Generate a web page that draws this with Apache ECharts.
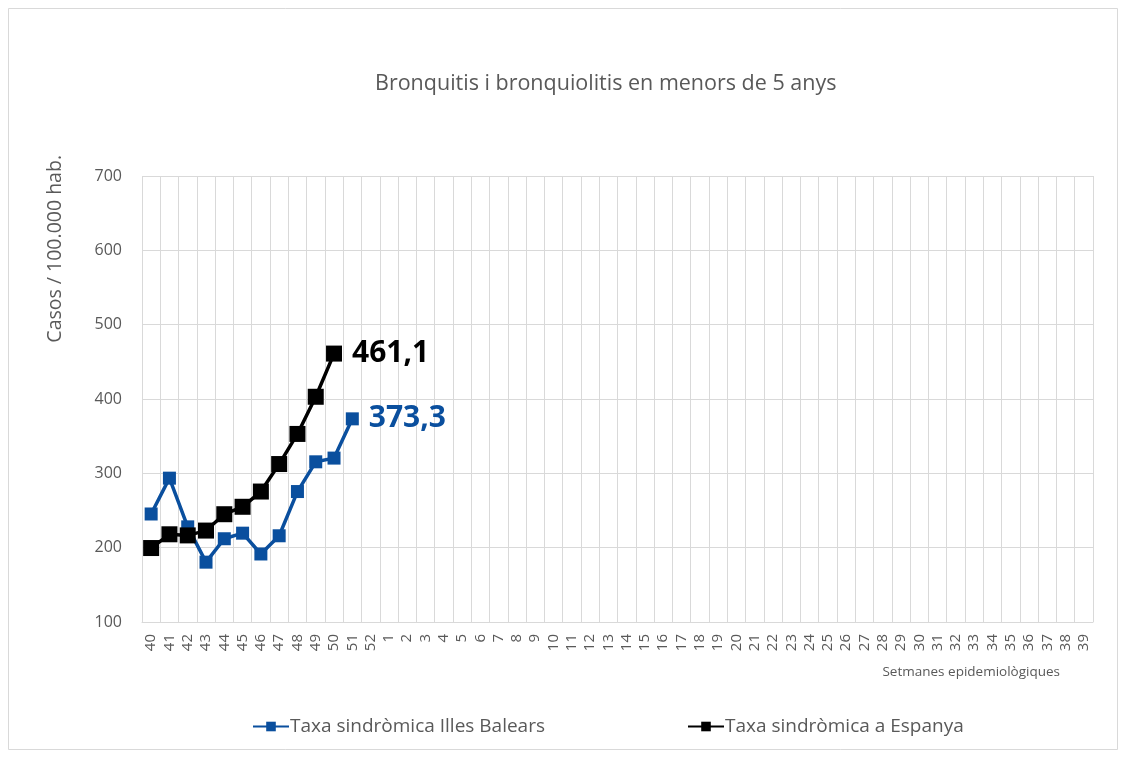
<!DOCTYPE html>
<html>
<head>
<meta charset="utf-8">
<script src="https://cdn.jsdelivr.net/npm/echarts@6/dist/echarts.min.js"></script>
<style>
  html, body { margin: 0; padding: 0; background: #fff; }
  #chart { width: 1126px; height: 758px; }
</style>
</head>
<body>
<div id="chart"></div>
<script>
  // setmanes epidemiològiques 40..52, 1..39
  var weeks = ['40','41','42','43','44','45','46','47','48','49','50','51','52',
    '1','2','3','4','5','6','7','8','9','10','11','12','13','14','15','16','17','18','19',
    '20','21','22','23','24','25','26','27','28','29','30','31','32','33','34','35','36','37','38','39']
  var balears = [245.3, 293.5, 228, 180.5, 212, 219.5, 191.5, 216, 275.5, 315.5, 320.5, 373.3]
  var espanya = [199.5, 218, 216.5, 223, 245, 255, 275.5, 312.5, 353, 403, 461.1]
  var yTicks = [100, 200, 300, 400, 500, 600, 700]

  var blue = '#0a4f9e'
  var grey = '#595959'
  var font = '"Open Sans", "Noto Sans", sans-serif'

  function lastLabel(arr, color) {
    return arr.map(function (v, i) {
      if (i !== arr.length - 1) return v
      return {
        value: v,
        label: {
          show: true,
          position: 'right',
          distance: 10,
          formatter: function (p) { return String(p.value).replace('.', ',') },
          fontSize: 30,
          fontWeight: 'bold',
          fontFamily: font,
          color: color
        }
      }
    })
  }

  var chart = echarts.init(document.getElementById('chart'))
  chart.setOption({
    animation: false,
    backgroundColor: '#fff',
    title: {
      text: 'Bronquitis i bronquiolitis en menors de 5 anys',
      left: 370,
      top: 68,
      textStyle: { color: grey, fontSize: 21.5, fontWeight: 'normal', fontFamily: font }
    },
    graphic: [{
      type: 'rect',
      shape: { x: 8.5, y: 8.5, width: 1109, height: 741 },
      style: { fill: 'none', stroke: '#d9d9d9', lineWidth: 1 },
      silent: true
    }],
    grid: { left: 142, right: 33, top: 176, bottom: 136 },
    legend: {
      left: 247,
      bottom: 17,
      itemGap: 142,
      itemWidth: 36,
      itemHeight: 12,
      textStyle: { color: grey, fontSize: 19, fontFamily: font, padding: [0, 0, 0, -4] },
      data: ['Taxa sindròmica Illes Balears', 'Taxa sindròmica a Espanya']
    },
    xAxis: {
      type: 'category',
      data: weeks,
      boundaryGap: true,
      name: 'Setmanes epidemiològiques',
      nameLocation: 'end',
      nameGap: 0,
      nameTextStyle: {
        color: grey, fontSize: 13.5, fontFamily: font,
        align: 'right', verticalAlign: 'top', padding: [43, 33, 0, 0]
      },
      axisLine: { lineStyle: { color: '#d9d9d9' } },
      axisTick: { show: false },
      axisLabel: {
        interval: 0, rotate: 90, color: grey, fontSize: 15, fontFamily: font, margin: 12
      },
      splitLine: { show: true, interval: 0, lineStyle: { color: '#d9d9d9' } }
    },
    yAxis: {
      type: 'value',
      min: yTicks[0],
      max: yTicks[yTicks.length - 1],
      interval: 100,
      name: 'Casos / 100.000 hab.',
      nameLocation: 'end',
      nameRotate: 90,
      nameGap: 21,
      nameTextStyle: {
        color: grey, fontSize: 19.5, fontFamily: font,
        align: 'right', verticalAlign: 'bottom', padding: [0, 0, 77, 0]
      },
      axisLine: { show: false },
      axisTick: { show: false },
      axisLabel: { color: grey, fontSize: 16, fontFamily: font, margin: 20 },
      splitLine: { lineStyle: { color: '#d9d9d9' } }
    },
    series: [{
      name: 'Taxa sindròmica Illes Balears',
      type: 'line',
      data: lastLabel(balears, blue),
      symbol: 'rect',
      symbolSize: 13,
      itemStyle: { color: blue },
      lineStyle: { color: blue, width: 3.5 },
      z: 2
    }, {
      name: 'Taxa sindròmica a Espanya',
      type: 'line',
      data: lastLabel(espanya, '#000'),
      symbol: 'rect',
      symbolSize: 16,
      itemStyle: { color: '#000' },
      lineStyle: { color: '#000', width: 3.5 },
      z: 3
    }]
  })
</script>
</body>
</html>
